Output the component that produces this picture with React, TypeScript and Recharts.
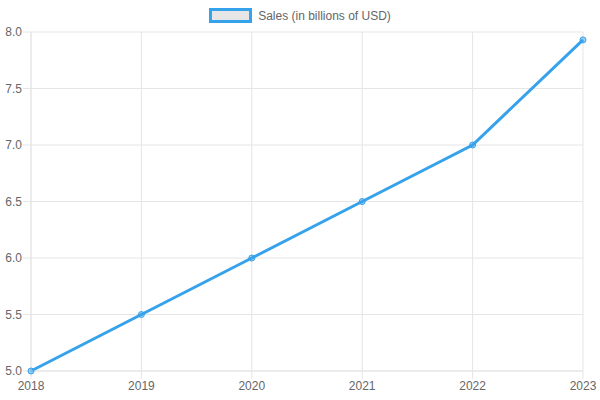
import { LineChart, Line, XAxis, YAxis, CartesianGrid } from "recharts";

const years = ["2018", "2019", "2020", "2021", "2022", "2023"];
const sales = [5.0, 5.5, 6.0, 6.5, 7.0, 7.93];
const yTicks = [5.0, 5.5, 6.0, 6.5, 7.0, 7.5, 8.0];

const data = years.map((year, i) => ({ year, sales: sales[i] }));

const gridColor = "#e5e5e5";
const textColor = "#666";
const lineColor = "#36A2EB";

export default function App() {
  return (
    <div
      style={{
        position: "absolute",
        left: 0,
        top: 0,
        width: 600,
        height: 400,
        background: "#fff",
        fontFamily: "'Liberation Sans', Arial, sans-serif",
      }}
    >
      <div
        style={{
          position: "absolute",
          top: 8,
          left: 0,
          width: 600,
          display: "flex",
          justifyContent: "center",
          alignItems: "center",
          fontSize: 12,
          color: textColor,
        }}
      >
        <span
          style={{
            display: "inline-block",
            width: 37,
            height: 9,
            border: `3px solid ${lineColor}`,
            background: "#e6e6e6",
            marginRight: 6,
          }}
        />
        <span>Sales (in billions of USD)</span>
      </div>
      <LineChart width={600} height={400} data={data} margin={{ top: 32, right: 17, bottom: 0, left: 0 }}>
        <CartesianGrid stroke={gridColor} />
        <XAxis
          dataKey="year"
          height={29}
          tickSize={8}
          tickMargin={2}
          stroke={gridColor}
          tick={{ fill: textColor, fontSize: 12 }}
          interval={0}
        />
        <YAxis
          width={31}
          domain={[5, 8]}
          ticks={yTicks}
          tickSize={8}
          tickMargin={1}
          stroke={gridColor}
          tick={{ fill: textColor, fontSize: 12 }}
          tickFormatter={(v: number) => v.toFixed(1)}
        />
        <Line
          type="linear"
          dataKey="sales"
          stroke={lineColor}
          strokeWidth={3}
          dot={{ r: 3, fill: "rgba(54,162,235,0.5)", stroke: lineColor, strokeWidth: 1 }}
          isAnimationActive={false}
        />
      </LineChart>
    </div>
  );
}
